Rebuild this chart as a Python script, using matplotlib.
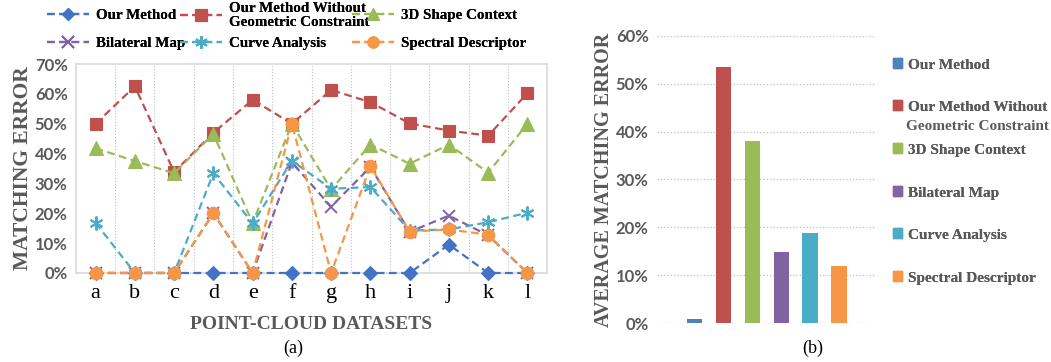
import matplotlib
matplotlib.use("Agg")
import matplotlib.pyplot as plt
from matplotlib.patches import Patch
from matplotlib.ticker import PercentFormatter

datasets = ['a', 'b', 'c', 'd', 'e', 'f', 'g', 'h', 'i', 'j', 'k', 'l']

our_method = [0, 0, 0, 0, 0, 0, 0, 0, 0, 9.5, 0, 0]
without_geo = [50, 62.5, 33.8, 47, 58, 50, 61.3, 57.2, 50.1, 47.7, 46, 60.2]
shape_context = [41.8, 37.5, 33.4, 46.6, 16.7, 50, 28, 43, 36.6, 43, 33.6, 50]
bilateral_map = [0, 0, 0, 20, 0, 37, 22.2, 35.5, 13.8, 19.2, 12.6, 0]
curve_analysis = [16.8, 0, 0, 33.4, 16.6, 37.6, 28.2, 28.8, 14.2, 14.6, 17, 20.2]
spectral_desc = [0, 0, 0, 20, 0, 50, 0, 35.8, 13.8, 14.6, 12.8, 0]

method_names = ['Our Method', 'Our Method Without\nGeometric Constraint', '3D Shape Context',
                'Bilateral Map', 'Curve Analysis', 'Spectral Descriptor']
avg_error = [1.0, 53.4, 38.1, 14.8, 18.8, 12.0]

line_colors = ['#4472C4', '#C0504D', '#9BBB59', '#8064A2', '#4BACC6', '#F79646']
markers = ['D', 's', '^', 'x', (6, 2, 0), 'o']
msizes = [7, 9, 10, 9, 10, 9]
bar_colors = ['#4F81BD', '#C0504D', '#9BBB59', '#8064A2', '#4BACC6', '#F79646']

grey = '#595959'
serif = 'Liberation Serif'
sans = 'Lato'

fig = plt.figure(figsize=(10.51, 3.62), dpi=100)

# ---- (a) line chart ----
ax = fig.add_axes([0.0723, 0.2459, 0.4482, 0.5773])
series = [our_method, without_geo, shape_context, bilateral_map, curve_analysis, spectral_desc]
x = list(range(len(datasets)))
handles = []
for i, vals in enumerate(series):
    h, = ax.plot(x, [v / 100 for v in vals], linestyle=(0, (3.5, 2)), linewidth=1.6,
                 color=line_colors[i], marker=markers[i], markersize=msizes[i],
                 markeredgewidth=1.4 if markers[i] in ('x', (6, 2, 0)) else 0.8,
                 markeredgecolor=line_colors[i], clip_on=False, zorder=3 + i)
    handles.append(h)

ax.set_xlim(-0.5, len(datasets) - 0.5)
ax.set_ylim(0, 0.7)
ax.set_yticks([i / 10 for i in range(8)])
ax.yaxis.set_major_formatter(PercentFormatter(1.0, decimals=0))
ax.set_xticks(x)
ax.set_xticklabels(datasets, fontfamily=serif, fontsize=16)
for lab in ax.get_yticklabels():
    lab.set_fontfamily(sans)
    lab.set_fontweight('bold')
    lab.set_fontsize(12)
    lab.set_color(grey)
ax.tick_params(axis='both', length=0)
ax.tick_params(axis='y', pad=6)
ax.tick_params(axis='x', pad=8)
for v in range(len(datasets) - 1):
    ax.axvline(v + 0.5, color='#BFBFBF', linestyle=':', linewidth=0.8, zorder=1)
for s in ax.spines.values():
    s.set_color('#D9D9D9')
    s.set_linewidth(1.2)
ax.set_ylabel('MATCHING ERROR', fontfamily=serif, fontweight='bold', fontsize=15.5,
              color=grey, labelpad=1)
ax.set_xlabel('POINT-CLOUD DATASETS', fontfamily=serif, fontweight='bold', fontsize=14,
              color=grey, labelpad=9)
fig.text(293 / 1051, 1 - 348 / 362, '(a)', fontfamily=serif, fontsize=13,
         ha='center', va='center')

# top legend, one entry at a time to keep rows aligned (text start x, row y)
leg_pos = [(97, 15.7), (230, 15.7), (402, 15.7), (97, 43.3), (230, 43.3), (402, 43.3)]
for i, h in enumerate(handles):
    px, py = leg_pos[i]
    lg = fig.legend([h], [method_names[i]], loc='center left',
                    bbox_to_anchor=((px - 50) / 1051, 1 - py / 362), frameon=False,
                    prop={'family': serif, 'weight': 'bold', 'size': 10.8},
                    handlelength=2.8, handletextpad=0.45, borderpad=0, borderaxespad=0,
                    markerscale=0.9)
    for t in lg.get_texts():
        t.set_linespacing(1.05)
    fig.add_artist(lg)

# ---- (b) bar chart ----
bx = fig.add_axes([0.6251, 0.1069, 0.2074, 0.7945])
bx.bar(range(len(avg_error)), [v / 100 for v in avg_error], width=0.52, color=bar_colors,
       zorder=3)
bx.set_xlim(-1.28, 6.24)
bx.set_ylim(0, 0.6)
bx.set_yticks([i / 10 for i in range(7)])
bx.yaxis.set_major_formatter(PercentFormatter(1.0, decimals=0))
bx.set_xticks([])
bx.grid(axis='y', color='#BFBFBF', linestyle=':', linewidth=0.9, zorder=0)
for lab in bx.get_yticklabels():
    lab.set_fontfamily(sans)
    lab.set_fontweight('bold')
    lab.set_fontsize(12)
    lab.set_color(grey)
bx.tick_params(axis='y', length=0, pad=6)
for s in bx.spines.values():
    s.set_visible(False)
bx.set_ylabel('AVERAGE MATCHING ERROR', fontfamily=serif, fontweight='bold', fontsize=14.5,
              color=grey, labelpad=1)
fig.text(813 / 1051, 1 - 348 / 362, '(b)', fontfamily=serif, fontsize=13,
         ha='center', va='center')

# bar legend: marker sits beside the first line of each label
bar_leg_y = [65, 107, 150, 193, 235, 278]
for i in range(len(method_names)):
    lines = method_names[i].split('\n')
    lg = fig.legend([Patch(color=bar_colors[i])], [lines[0]], loc='center left',
                    bbox_to_anchor=(893 / 1051, 1 - bar_leg_y[i] / 362), frameon=False,
                    prop={'family': serif, 'weight': 'bold', 'size': 11},
                    handlelength=0.6, handleheight=0.6, handletextpad=0.35,
                    borderpad=0, borderaxespad=0, labelcolor=grey)
    fig.add_artist(lg)
    for k, extra in enumerate(lines[1:]):
        fig.text(906 / 1051, 1 - (bar_leg_y[i] + 19 * (k + 1)) / 362, extra,
                 fontfamily=serif, fontweight='bold', fontsize=11, color=grey,
                 ha='left', va='center')

fig.savefig('out.png', dpi=100)
